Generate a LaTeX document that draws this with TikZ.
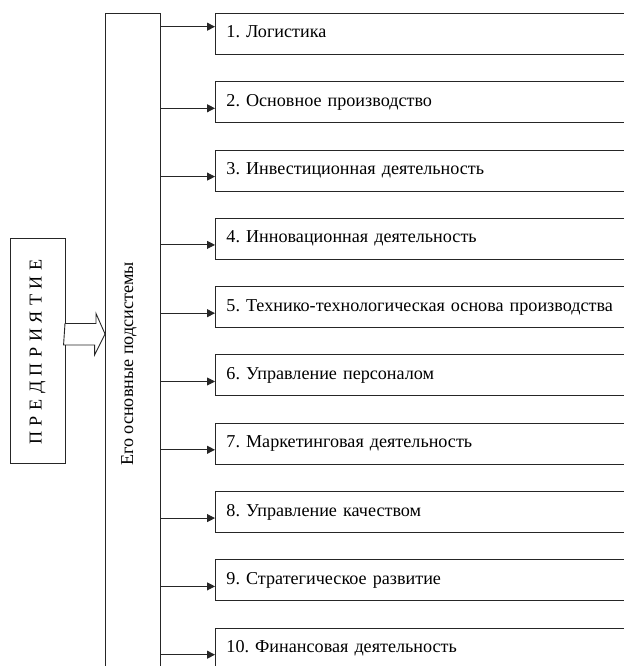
\documentclass[tikz,border=0pt]{standalone}
\usepackage{fontspec}
\usepackage{graphicx}
\setmainfont{Liberation Serif}
\usetikzlibrary{arrows.meta,calc}
\begin{document}
\frenchspacing
\begin{tikzpicture}[x=1bp,y=1bp,
  lw/.style={line width=0.9bp, draw=black!85},
  subbox/.style={lw, rectangle, anchor=north west, minimum height=41bp, text width=403bp, inner xsep=11bp, inner ysep=0pt, align=left, text height=12bp, text depth=4bp, font=\fontsize{18.2}{21}\selectfont},
  arr/.style={lw, -{Triangle[length=8bp,width=8bp]}},
  txt/.style={font=\fontsize{18.2}{21}\selectfont}]
\useasboundingbox (0,0) rectangle (624,666);
\clip (0,0) rectangle (624,666);
\fill[white] (0,0) rectangle (624,666);
% left box
\node[lw, rectangle, minimum width=55bp, minimum height=225bp, inner sep=0pt] (pred) at (37.5,315.5) {};
\node[txt, inner sep=0pt] (predtxt) at (37.5,314) {\rotatebox{90}{\spaceskip=5.5bp plus 1bp П Р Е Д П Р И Я Т И Е}};
% big vertical box
\node[lw, rectangle, minimum width=55bp, minimum height=702bp, inner sep=0pt] (sub) at (133,302) {};
\node[txt, inner sep=0pt] (subtxt) at (129,302) {\rotatebox{90}{Его основные подсистемы}};
% hollow arrow
\coordinate (ha) at (65,332);
\draw[lw, fill=white] (ha) ++(0,10.5) -- ++(31,0) -- ++(0,10) -- (sub.west |- ha) -- ++(-10.5,-21) -- ++(0,10) -- ++(-31,0) -- cycle;
% subsystem boxes
\foreach \i/\t in {1/{1. Логистика},2/{2. Основное производство},3/{3. Инвестиционная деятельность},4/{4. Инновационная деятельность},5/{5. Технико-технологическая основа производства},6/{6. Управление персоналом},7/{7. Маркетинговая деятельность},8/{8. Управление качеством},9/{9. Стратегическое развитие},10/{10. Финансовая деятельность}}{
  \node[subbox] (b\i) at (215,{653-(\i-1)*68.3}) {\t};
}
\foreach \i in {2,...,10}{
  \coordinate (s\i) at (sub.east |- {0,{626-(\i-1)*68.3}});
  \draw[arr] (s\i) -- (s\i -| b\i.west);
}
\coordinate (s1) at (sub.east |- {0,639.3});
\draw[arr] (s1) -- (s1 -| b1.west);
\end{tikzpicture}
\end{document}
